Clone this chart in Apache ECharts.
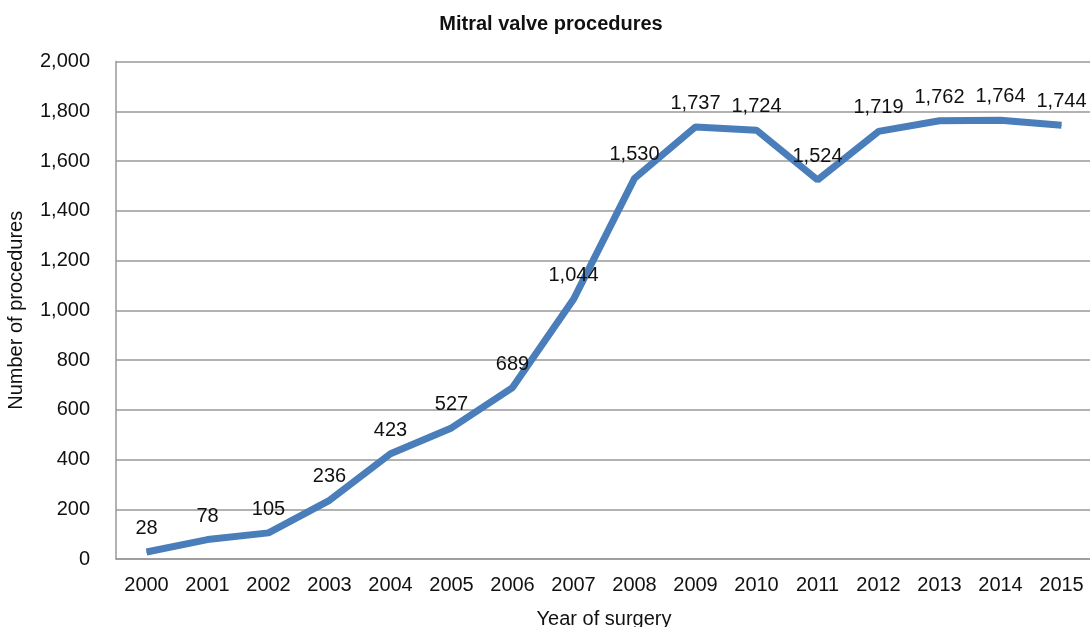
<!DOCTYPE html>
<html>
<head>
<meta charset="utf-8">
<script src="https://cdn.jsdelivr.net/npm/echarts@6/dist/echarts.min.js"></script>
<style>
html,body{margin:0;padding:0;background:#fff;}
#chart{width:1090px;height:627px;}
</style>
</head>
<body>
<div id="chart"></div>
<script>
const years = ['2000','2001','2002','2003','2004','2005','2006','2007','2008','2009','2010','2011','2012','2013','2014','2015'];
const procedures = [28, 78, 105, 236, 423, 527, 689, 1044, 1530, 1737, 1724, 1524, 1719, 1762, 1764, 1744];
const titleText = 'Mitral valve procedures';
const xName = 'Year of surgery';
const yName = 'Number of procedures';

const font = '"Liberation Sans", Arial, Helvetica, sans-serif';
const chart = echarts.init(document.getElementById('chart'), null, {renderer: 'canvas'});
chart.setOption({
  animation: false,
  backgroundColor: '#ffffff',
  textStyle: {fontFamily: font},
  title: {
    text: titleText,
    left: 546, top: 9,
    textAlign: 'center',
    textStyle: {fontFamily: font, fontSize: 20, fontWeight: 'bold', color: '#111'}
  },
  grid: {left: 116, top: 61.5, width: 976, bottom: 68, containLabel: false, outerBoundsMode: 'none'},
  xAxis: {
    type: 'category',
    data: years,
    boundaryGap: true,
    name: xName,
    nameLocation: 'middle',
    nameGap: 50,
    nameTextStyle: {fontFamily: font, fontSize: 20, color: '#111'},
    axisLine: {show: true, lineStyle: {color: '#999', width: 1.5}},
    axisTick: {show: false},
    axisLabel: {fontFamily: font, fontSize: 20, color: '#111', margin: 16}
  },
  yAxis: {
    type: 'value',
    min: 0, max: 2000, interval: 200,
    name: yName,
    nameLocation: 'middle',
    nameGap: 90,
    nameTextStyle: {fontFamily: font, fontSize: 20, color: '#111'},
    axisLine: {show: true, lineStyle: {color: '#999', width: 1.5}},
    axisTick: {show: false},
    splitLine: {show: true, lineStyle: {color: '#999', width: 1.5}},
    axisLabel: {
      fontFamily: font, fontSize: 20, color: '#111', margin: 26,
      formatter: v => v.toLocaleString('en-US')
    }
  },
  series: [{
    type: 'line',
    data: procedures,
    symbol: 'circle',
    symbolSize: 1,
    showSymbol: true,
    lineStyle: {color: '#4a7ebb', width: 7},
    itemStyle: {color: '#4a7ebb'},
    label: {
      show: true,
      position: 'top',
      distance: 13,
      fontFamily: font,
      fontSize: 20,
      color: '#111',
      formatter: p => p.value.toLocaleString('en-US')
    },
    labelLayout: {hideOverlap: false},
    z: 3
  }]
});
</script>
</body>
</html>
